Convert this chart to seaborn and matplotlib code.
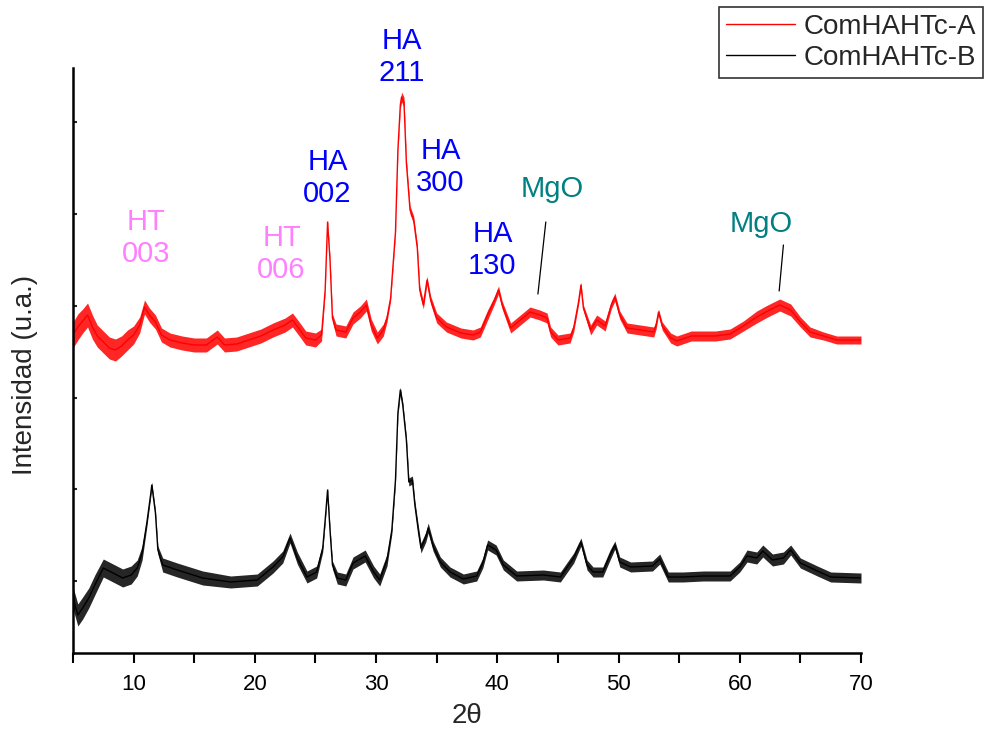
import numpy as np
import pandas as pd
import seaborn as sns
from matplotlib import pyplot as plt

# Patrón DRX (u.a.); la curva A está desplazada hacia arriba
theta_a = [5.0, 5.4, 5.8, 6.2, 6.6, 7.0, 7.5, 8.0, 8.5, 9.0, 9.5, 10.0, 10.5, 10.9,
           11.3, 11.8, 12.3, 13.0, 14.0, 15.0, 16.0, 16.9, 17.5, 18.5, 19.5, 20.5,
           21.5, 22.5, 23.1, 23.6, 24.2, 25.0, 25.5, 25.8, 26.0, 26.2, 26.4, 26.7,
           27.5, 28.1, 28.7, 29.2, 29.6, 30.1, 30.6, 30.9, 31.2, 31.6, 31.8, 32.0,
           32.1, 32.3, 32.5, 32.8, 33.1, 33.4, 33.6, 33.9, 34.2, 34.5, 35.0, 35.8,
           37.0, 38.0, 38.6, 39.2, 39.7, 40.1, 40.4, 41.1, 41.9, 42.7, 43.5, 44.1,
           44.4, 45.0, 46.0, 46.3, 46.7, 46.9, 47.1, 47.7, 48.2, 48.9, 49.4, 49.7,
           50.1, 50.7, 51.8, 52.9, 53.1, 53.3, 53.6, 54.3, 54.8, 56.0, 58.0, 59.2,
           60.3, 61.4, 62.3, 63.3, 64.2, 65.0, 65.8, 66.9, 68.0, 70.0]
int_a = [338, 346, 352, 358, 346, 337, 331, 325, 323, 327, 333, 338, 348, 366,
         358, 351, 338, 333, 330, 328, 328, 336, 328, 329, 333, 337,
         343, 348, 353, 345, 335, 333, 338, 383, 451, 413, 355, 343,
         341, 355, 361, 368, 348, 335, 343, 355, 375, 441, 523, 568,
         576, 571, 510, 463, 453, 425, 383, 368, 393, 373, 355, 346,
         340, 338, 341, 358, 371, 383, 368, 345, 353, 361, 358, 355,
         341, 333, 335, 345, 371, 388, 365, 343, 353, 347, 368, 376,
         358, 345, 343, 341, 348, 361, 347, 335, 332, 337, 337, 339,
         347, 356, 362, 368, 363, 351, 341, 337, 333, 333]
# semiancho aproximado de la banda de ruido
noise_a = [13, 13, 12, 12, 12, 11, 11, 11, 11, 10, 10, 9, 8, 7,
           7, 7, 7, 7, 7, 7, 7, 7, 7, 7, 7, 7,
           7, 7, 7, 7, 7, 7, 6, 3, 2, 3, 4, 6,
           6, 6, 6, 6, 6, 6, 6, 4, 3, 3, 3, 4,
           5, 5, 4, 4, 4, 4, 4, 4, 4, 4, 5, 5,
           5, 5, 5, 5, 4, 4, 4, 5, 5, 5, 5, 5,
           5, 5, 5, 4, 3, 3, 3, 5, 5, 5, 4, 4,
           4, 5, 5, 5, 4, 3, 4, 5, 5, 5, 5, 5,
           5, 6, 6, 6, 6, 5, 5, 4, 4, 4]

theta_b = [5.0, 5.4, 5.8, 6.3, 6.8, 7.5, 8.3, 9.1, 9.8, 10.3, 10.7, 11.1, 11.4,
           11.5, 11.8, 12.0, 12.4, 13.6, 15.7, 18.0, 20.2, 21.5, 22.3, 22.9, 23.5,
           24.3, 25.1, 25.6, 25.8, 26.0, 26.2, 26.4, 26.8, 27.5, 28.1, 29.1, 29.8,
           30.3, 30.9, 31.3, 31.6, 31.8, 32.0, 32.2, 32.5, 32.7, 33.0, 33.2, 33.5,
           33.7, 34.1, 34.3, 34.7, 35.3, 36.1, 37.2, 38.3, 38.8, 39.2, 39.9, 40.5,
           41.6, 43.8, 45.2, 46.3, 46.9, 47.4, 47.9, 48.7, 49.3, 49.7, 50.1, 51.0,
           52.8, 53.4, 54.1, 55.3, 57.0, 59.2, 60.0, 60.6, 61.4, 61.9, 62.7, 63.6,
           64.2, 65.0, 66.4, 67.5, 70.0]
int_b = [75, 58, 65, 75, 88, 105, 100, 95, 98, 105, 120, 151, 178,
         188, 160, 123, 108, 103, 95, 91, 93, 106, 116, 135, 115,
         96, 101, 125, 153, 183, 143, 108, 95, 93, 110, 117, 101,
         93, 113, 143, 193, 260, 283, 268, 233, 191, 193, 168, 141,
         125, 136, 145, 127, 111, 101, 94, 97, 110, 128, 123, 108,
         97, 98, 96, 115, 131, 108, 101, 101, 118, 128, 111, 106,
         107, 114, 96, 96, 97, 97, 106, 117, 115, 122, 113, 115,
         123, 110, 102, 96, 95]
noise_b = [11, 11, 11, 10, 10, 9, 9, 9, 9, 8, 7, 4, 3,
           3, 3, 4, 7, 7, 7, 6, 6, 6, 6, 5, 6,
           6, 6, 4, 3, 2, 3, 4, 6, 6, 6, 6, 6,
           6, 6, 4, 3, 3, 3, 3, 3, 4, 4, 4, 5,
           5, 5, 5, 5, 5, 5, 5, 5, 5, 5, 5, 5,
           5, 5, 5, 5, 4, 5, 5, 5, 5, 4, 5, 5,
           5, 5, 5, 5, 5, 5, 5, 6, 6, 6, 6, 6,
           5, 5, 5, 5, 5]

series_names = ['ComHAHTc-A', 'ComHAHTc-B']
series_colors = ['#ff0000', '#000000']

# Etiquetas de picos: texto, posición 2θ, altura (u.a.), color
peak_labels = ['HT\n003', 'HT\n006', 'HA\n002', 'HA\n211', 'HA\n300', 'HA\n130', 'MgO', 'MgO']
peak_x = [11.0, 22.2, 26.0, 32.1, 35.3, 39.6, 44.5, 61.8]
peak_y = [465, 449, 525, 646, 536, 453, 498, 463]
peak_colors = ['#ff80ff', '#ff80ff', '#0000ff', '#0000ff', '#0000ff', '#0000ff', '#008080', '#008080']
# líneas indicadoras de MgO
mgo_x0 = [44.0, 63.6]
mgo_y0 = [451, 428]
mgo_x1 = [43.35, 63.25]
mgo_y1 = [379, 382]

sns.set_theme(style='ticks')
plt.rcParams['font.family'] = ['Liberation Sans', 'DejaVu Sans']

df = pd.concat([
    pd.DataFrame({'theta': theta_a, 'intensity': int_a, 'noise': noise_a, 'serie': series_names[0]}),
    pd.DataFrame({'theta': theta_b, 'intensity': int_b, 'noise': noise_b, 'serie': series_names[1]}),
])

fig = plt.figure(figsize=(9.85, 7.32), dpi=100)
ax = fig.add_axes([73 / 985, 1 - 653 / 732, 788 / 985, 585 / 732])

# banda del ruido
for name, color in zip(series_names, series_colors):
    d = df[df['serie'] == name]
    ax.fill_between(d['theta'], d['intensity'] - d['noise'], d['intensity'] + d['noise'],
                    color=color, alpha=0.85, lw=0)

sns.lineplot(data=df, x='theta', y='intensity', hue='serie', palette=series_colors,
             estimator=None, sort=False, linewidth=1.0, ax=ax)

for txt, x, y, c in zip(peak_labels, peak_x, peak_y, peak_colors):
    ax.text(x, y, txt, color=c, fontsize=21, ha='center', va='top', linespacing=1.2)
for x0, y0, x1, y1 in zip(mgo_x0, mgo_y0, mgo_x1, mgo_y1):
    ax.plot([x0, x1], [y0, y1], color='black', lw=0.9)

ax.set_xlim(5, 70)
ax.set_ylim(20, 605)
ax.set_xticks(range(10, 71, 10))
ax.set_xticks(range(5, 70, 10), minor=True)
ax.set_yticks(np.arange(1, 7) * 91.8)
ax.set_yticklabels([])
ax.tick_params(axis='x', which='both', direction='out', length=7, width=1.5,
               labelsize=16, pad=8, colors='black')
ax.tick_params(axis='y', direction='in', length=3, width=1.5)
ax.spines['top'].set_visible(False)
ax.spines['right'].set_visible(False)
ax.spines['left'].set_linewidth(1.8)
ax.spines['bottom'].set_linewidth(1.8)
ax.spines['left'].set_color('black')
ax.spines['bottom'].set_color('black')

ax.set_xlabel('2θ', fontsize=20, labelpad=6)
ax.set_ylabel('Intensidad (u.a.)', fontsize=20)
ax.yaxis.set_label_coords(-0.045, 0.475)

ax.get_legend().remove()
handles = ax.get_lines()[:2]
leg = fig.legend(handles, series_names, loc='upper right', bbox_to_anchor=(0.998, 0.991),
                 fontsize=20, frameon=True, fancybox=False, edgecolor='black',
                 handlelength=2.5, borderpad=0.25, labelspacing=0.2, handletextpad=0.3,
                 borderaxespad=0)
leg.get_frame().set_linewidth(1.2)
for h in leg.get_lines():
    h.set_linewidth(1.0)

plt.savefig('out.png', dpi=100)
